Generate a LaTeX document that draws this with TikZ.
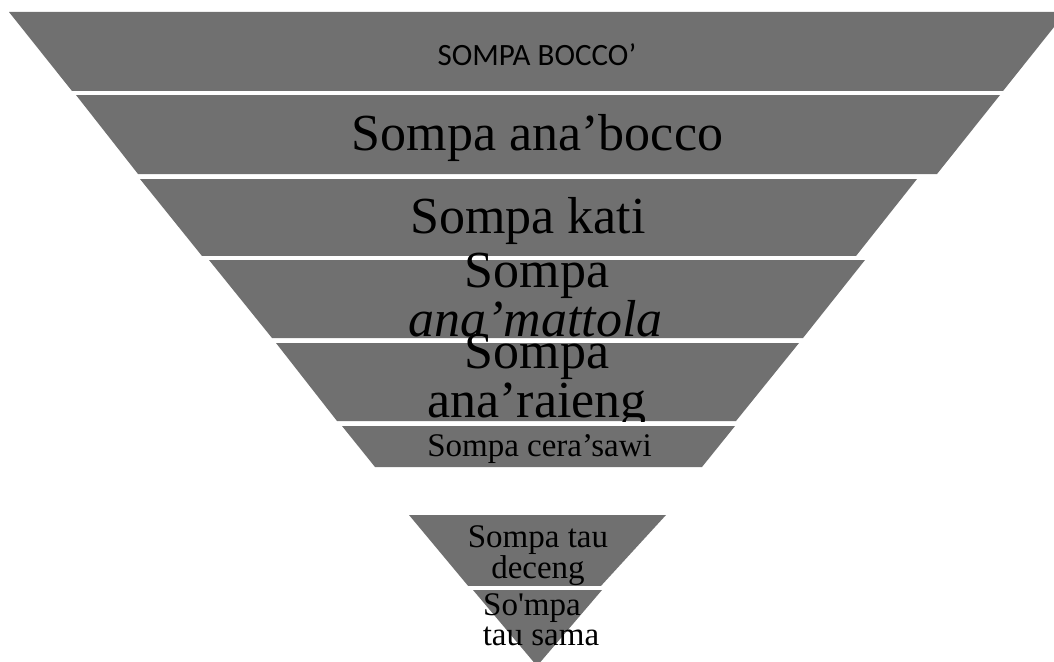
\documentclass[tikz,border=0pt]{standalone}
\usepackage{fontspec}
\newfontfamily\serifface{Liberation Serif}
\newfontfamily\sansface{Carlito}
\definecolor{bandgray}{RGB}{112,112,112}
\begin{document}
\begin{tikzpicture}[x=1pt,y=-1pt,
  band/.style={fill=bandgray},
  seam/.style={draw=white,line width=4.5pt},
  lbl/.style={anchor=base,inner sep=0pt,text=black},
  big/.style={lbl,font=\serifface\fontsize{52}{52}\selectfont},
  bigit/.style={lbl,font=\serifface\itshape\fontsize{52}{52}\selectfont},
  small/.style={lbl,font=\serifface\fontsize{33}{33}\selectfont},
  caps/.style={lbl,font=\sansface\fontsize{31}{31}\selectfont}]
\useasboundingbox (0,0) rectangle (1054,661);
\fill[white] (0,0) rectangle (1054,661);
\clip (0,0) rectangle (1054,661);

% level 1
\fill[band] (9,12) -- (1066,12) -- (1003,91) -- (72,91) -- cycle;
\node[caps] (t1) at (537,66) {SOMPA BOCCO’};

% level 2
\draw[seam] (60,92.75) -- (1010,92.75);
\fill[band] (76,95) -- (1000,95) -- (937,174) -- (138,174) -- cycle;
\node[big] (t2) at (537.5,150) {Sompa ana’bocco};

% level 3
\draw[seam] (130,176.75) -- (945,176.75);
\fill[band] (140,179) -- (917,179) -- (856,256) -- (202,256) -- cycle;
\node[big] (t3) at (528,233) {Sompa kati};

% level 4
\draw[seam] (195,257.75) -- (870,257.75);
\fill[band] (209,260) -- (865,260) -- (803,338) -- (272,338) -- cycle;
\node[big] (t4a) at (537,287) {Sompa};
\node[bigit] (t4b) at (535.5,336) {ana’mattola};

% level 5
\draw[seam] (265,340.75) -- (810,340.75);
\fill[band] (276,343) -- (799,343) -- (736,421) -- (337,421) -- cycle;
\node[big] (t5a) at (537,368) {Sompa};
\node[big] (t5b) at (537,417) {ana’raieng};

% level 6
\draw[seam] (330,423.75) -- (745,423.75);
\fill[band] (342,426) -- (735,426) -- (702,467) -- (375,467) -- cycle;
\node[small] (t6) at (539.5,456) {Sompa cera’sawi};

% level 7
\fill[band] (409,515) -- (666,515) -- (600,587) -- (469,587) -- cycle;
\node[small] (t7a) at (538,547) {Sompa tau};
\node[small] (t7b) at (538,578) {deceng};

% level 8
\draw[seam] (460,588.5) -- (615,588.5);
\fill[band] (473,590) -- (602,590) -- (537,666) -- cycle;
\node[small] (t8a) at (532,615) {So'mpa};
\node[small] (t8b) at (541,645) {tau sama};
\end{tikzpicture}
\end{document}
